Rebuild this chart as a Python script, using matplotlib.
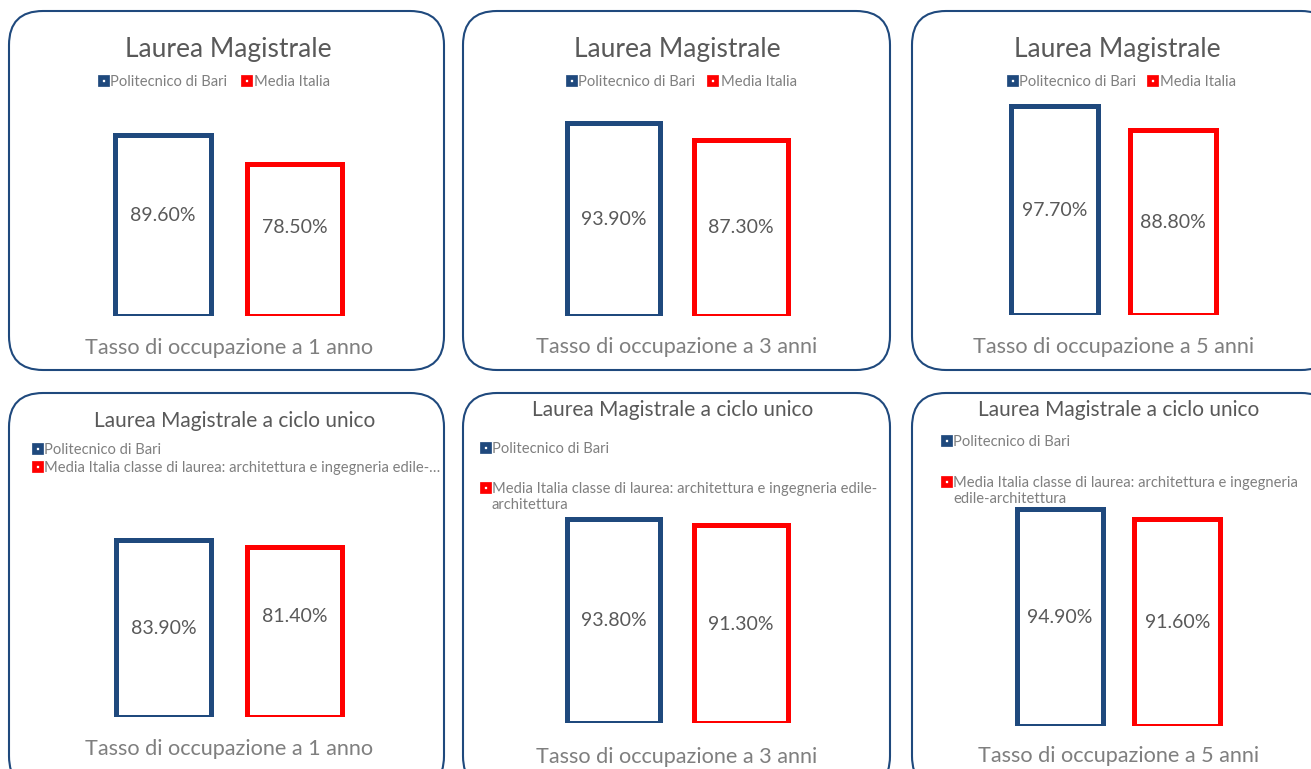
import numpy as np
import matplotlib.pyplot as plt
from matplotlib.patches import FancyBboxPatch, Rectangle

W, H = 1311, 769
BLUE = "#1F497D"
RED = "#FF0000"
TXT = "#595959"
GREY = "#7F7F7F"
YMIN, YMAX = 20, 100

plt.rcParams["font.family"] = ["Lato", "DejaVu Sans"]

# data
titles = ["Laurea Magistrale"] * 3 + ["Laurea Magistrale a ciclo unico"] * 3
periods = ["Tasso di occupazione a 1 anno",
           "Tasso di occupazione a 3 anni",
           "Tasso di occupazione a 5 anni"] * 2
label_bari = "Politecnico di Bari"
labels_italia = ["Media Italia"] * 3 + [
    "Media Italia classe di laurea: architettura e ingegneria edile-…",
    "Media Italia classe di laurea: architettura e ingegneria edile-\narchitettura",
    "Media Italia classe di laurea: architettura e ingegneria\nedile-architettura",
]
bari = [89.6, 93.9, 97.7, 83.9, 93.8, 94.9]
italia = [78.5, 87.3, 88.8, 81.4, 91.3, 91.6]

# layout in pixels (y from top)
boxes = [(9, 11, 444, 370), (463, 11, 890, 370), (912, 11, 1335, 370),
         (9, 393, 444, 790), (463, 393, 890, 790), (912, 393, 1335, 790)]
bar_geo = [(163, 294.5, 315.8, 2.60), (613.5, 741, 315.5, 2.61),
           (1054.5, 1173, 315.2, 2.69), (163.8, 294.3, 716.8, 2.76),
           (613.5, 741, 723, 2.77), (1059.7, 1177.3, 725.8, 2.89)]
title_pos = [(228, 49, 19), (677, 50, 19), (1117, 50, 19),
             (235, 421, 15), (673, 410, 15), (1119, 410, 15)]
legend_pos = [[(103, 80, 110), (246, 80, 254)],
              [(571, 80, 578), (712, 80, 721)],
              [(1012, 80, 1019), (1152, 80, 1160)],
              [(37, 448, 44), (37, 466, 44)],
              [(485, 447, 492), (485, 487, 492)],
              [(946, 440, 953), (946, 481, 953)]]
xlabel_pos = [(229, 348), (677, 347), (1114, 347),
              (229, 749), (677, 757), (1119, 756)]
label_shift = [(-10, -12), (0, 0), (0, 0), (0, -16), (0, 0), (0, 0)]

fig = plt.figure(figsize=(W / 100, H / 100), dpi=100)
bg = fig.add_axes([0, 0, 1, 1])
bg.set_xlim(0, W)
bg.set_ylim(H, 0)
bg.axis("off")


def px_axes(left, top, width, height):
    return fig.add_axes([left / W, 1 - (top + height) / H, width / W, height / H])


for i in range(6):
    x0, y0, x1, y1 = boxes[i]
    bg.add_patch(FancyBboxPatch((x0, y0), x1 - x0, y1 - y0,
                                boxstyle="round,pad=0,rounding_size=34",
                                fc="white", ec=BLUE, lw=1.5))

    tx, ty, ts = title_pos[i]
    bg.text(tx, ty, titles[i], ha="center", va="center", fontsize=ts, color=TXT)

    for (sx, sy, lx), col, lab in zip(legend_pos[i], [BLUE, RED],
                                      [label_bari, labels_italia[i]]):
        bg.add_patch(Rectangle((sx - 3.5, sy - 3.5), 7, 7, fc="white", ec=col, lw=3.4))
        bg.text(lx, sy - 5, lab, ha="left", va="top", fontsize=10.6, color=GREY,
                linespacing=1.2)

    xx, xy = xlabel_pos[i]
    bg.text(xx, xy, periods[i], ha="center", va="center", fontsize=15.6, color=GREY)

    c0, c1, bot, k = bar_geo[i]
    d = c1 - c0
    hgt = (YMAX - YMIN) * k
    ax = px_axes(c0 - d / 2, bot - hgt, 2 * d, hgt)
    ax.patch.set_alpha(0)
    vals = np.array([bari[i], italia[i]])
    ax.bar([0, 1], vals - YMIN, bottom=YMIN, width=0.73, fc="white",
           ec=[BLUE, RED], lw=3.6)
    ax.set_xlim(-0.5, 1.5)
    ax.set_ylim(YMIN, YMAX)
    ax.axis("off")
    for j, v in enumerate(vals):
        ax.annotate(f"{v:.2f}%", (j, (YMIN + v) / 2),
                    xytext=(0, -label_shift[i][j] * 0.72), textcoords="offset points",
                    ha="center", va="center", fontsize=14, color=TXT)

fig.savefig("out.png", dpi=100)
